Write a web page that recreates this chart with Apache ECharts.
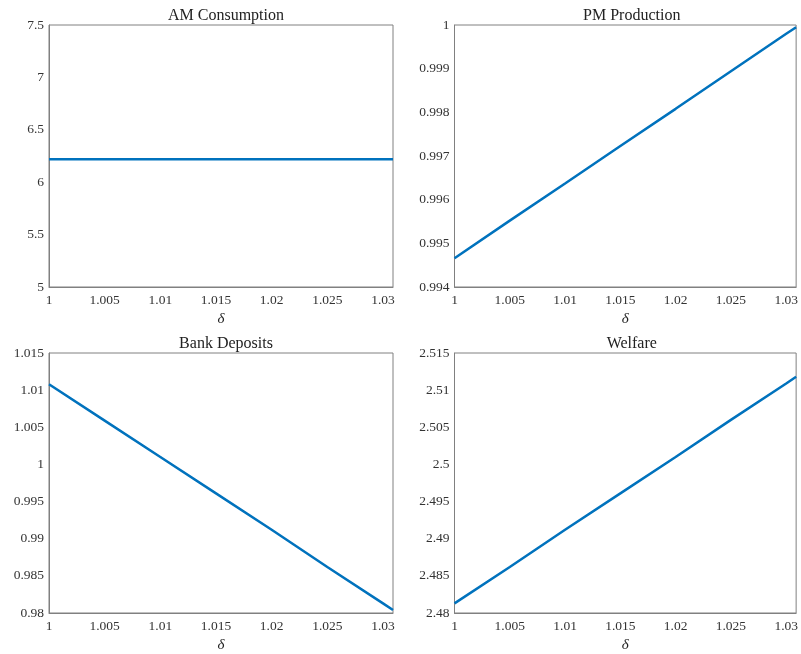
<!DOCTYPE html>
<html>
<head>
<meta charset="utf-8">
<script src="https://cdn.jsdelivr.net/npm/echarts@6/dist/echarts.min.js"></script>
<style>
html,body{margin:0;padding:0;background:#fff;}
#chart{width:801px;height:654px;}
</style>
</head>
<body>
<div id="chart"></div>
<script>
// Data
const delta = [1, 1.005, 1.01, 1.015, 1.02, 1.025, 1.03, 1.0309];
const amConsumption = [6.22, 6.22, 6.22, 6.22, 6.22, 6.22, 6.22, 6.22];
const pmProduction = [0.99466, 0.99552, 0.99637, 0.99723, 0.99808, 0.99894, 0.99980, 0.99995];
const bankDeposits = [1.0108, 1.0059, 1.0010, 0.9961, 0.9912, 0.9862, 0.9813, 0.9804];
const welfare = [2.4813, 2.4862, 2.4912, 2.4961, 2.5010, 2.5060, 2.5109, 2.5118];
const titles = ['AM Consumption', 'PM Production', 'Bank Deposits', 'Welfare'];
const yRanges = [[5, 7.5, 0.5], [0.994, 1, 0.001], [0.98, 1.015, 0.005], [2.48, 2.515, 0.005]];
const seriesData = [amConsumption, pmProduction, bankDeposits, welfare];

const font = '"Liberation Serif", "DejaVu Serif", serif';
const axisColor = '#808080';
const grids = [
  {left: 49, top: 25, width: 344, height: 262},
  {left: 454.5, top: 25, width: 344.5, height: 262},
  {left: 49, top: 353, width: 344, height: 262},
  {left: 454.5, top: 353, width: 344.5, height: 262}
];

function fmt(v) {
  return String(+v.toFixed(6));
}

const option = {
  animation: false,
  backgroundColor: '#fff',
  title: grids.map((g, i) => ({
    text: titles[i],
    left: g.left + g.width / 2,
    top: g.top - 22,
    textAlign: 'center',
    textStyle: {fontFamily: font, fontSize: 16, fontWeight: 'normal', color: '#222'}
  })),
  grid: grids.map(g => Object.assign({containLabel: false, show: true, borderColor: axisColor, borderWidth: 1, backgroundColor: '#fff'}, g)),
  xAxis: grids.map((g, i) => ({
    type: 'value',
    gridIndex: i,
    min: 1,
    max: 1.0309,
    interval: 0.005,
    name: 'δ',
    nameLocation: 'middle',
    nameGap: 25,
    nameTextStyle: {fontFamily: font, fontSize: 15, fontStyle: 'italic', color: '#222'},
    axisLine: {show: true, lineStyle: {color: axisColor}},
    axisTick: {show: false},
    splitLine: {show: false},
    axisLabel: {
      fontFamily: font, fontSize: 13.5, color: '#333', margin: 6,
      showMaxLabel: false,
      formatter: fmt
    }
  })),
  yAxis: grids.map((g, i) => ({
    type: 'value',
    gridIndex: i,
    min: yRanges[i][0],
    max: yRanges[i][1],
    interval: yRanges[i][2],
    axisLine: {show: true, lineStyle: {color: axisColor}},
    axisTick: {show: false},
    splitLine: {show: false},
    axisLabel: {
      fontFamily: font, fontSize: 13.5, color: '#333', margin: 5,
      formatter: fmt
    }
  })),
  series: seriesData.map((d, i) => ({
    type: 'line',
    xAxisIndex: i,
    yAxisIndex: i,
    data: delta.map((x, j) => [x, d[j]]),
    showSymbol: false,
    symbol: 'none',
    clip: true,
    lineStyle: {color: '#0072BD', width: 2.5}
  }))
};

const chart = echarts.init(document.getElementById('chart'), null, {renderer: 'canvas'});
chart.setOption(option);
</script>
</body>
</html>
